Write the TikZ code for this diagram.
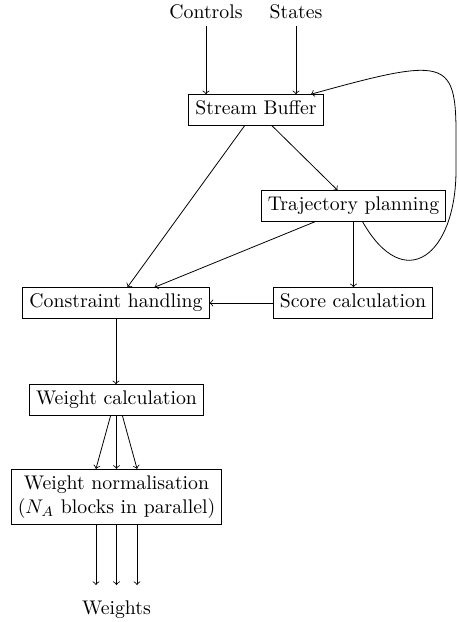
\documentclass[tikz,border=0pt]{standalone}
\begin{document}
\begin{tikzpicture}[x=0.506pt,y=-0.506pt,
  box/.style={draw, text height=6.94pt, text depth=1.94pt},
  boxtwo/.style={draw, align=center},
  lbl/.style={anchor=base},
  arr/.style={->}]
\useasboundingbox (0,0) rectangle (459,622);
\node[lbl] (ctrl) at (206,19) {Controls};
\node[lbl] (st) at (296,19) {States};
\node[box] (sb) at (256,110) {Stream Buffer};
\node[box] (tp) at (353.5,206) {Trajectory planning};
\node[box] (sc) at (353,303) {Score calculation};
\node[box] (ch) at (116,303) {Constraint handling};
\node[box] (wc) at (116.5,400) {Weight calculation};
\node[boxtwo] (wn) at (116.5,497) {Weight normalisation\\($N_A$ blocks in parallel)};
\node[lbl] (w) at (116.5,614) {Weights};
\coordinate (o1) at (96,585);
\coordinate (o2) at (116.5,585);
\coordinate (o3) at (137,585);
\coordinate (lr) at (456,170);

\draw[arr] (ctrl) -- (ctrl |- sb.north);
\draw[arr] (st) -- (st |- sb.north);
\draw[arr] (sb) -- (ch);
\draw[arr] (sb) -- (tp);
\draw[arr] (tp) -- (ch);
\draw[arr] (tp) -- (tp |- sc.north);
\draw[arr] (sc) -- (ch);
\draw[arr] (ch) -- (ch |- wc.north);
\draw[arr] ([xshift=-3pt]wc.south) -- ([xshift=-10.4pt]wn.north);
\draw[arr] (wc.south) -- (wn.north);
\draw[arr] ([xshift=3pt]wc.south) -- ([xshift=10.4pt]wn.north);
\draw[arr] (wn.south -| o1) -- (o1);
\draw[arr] (wn.south -| o2) -- (o2);
\draw[arr] (wn.south -| o3) -- (o3);
\draw[arr] (tp.-60) .. controls (404.5,295.6) and (456,255) .. (lr)
  .. controls (456,60) and (464.6,51.6) .. (sb.16);
\end{tikzpicture}
\end{document}
